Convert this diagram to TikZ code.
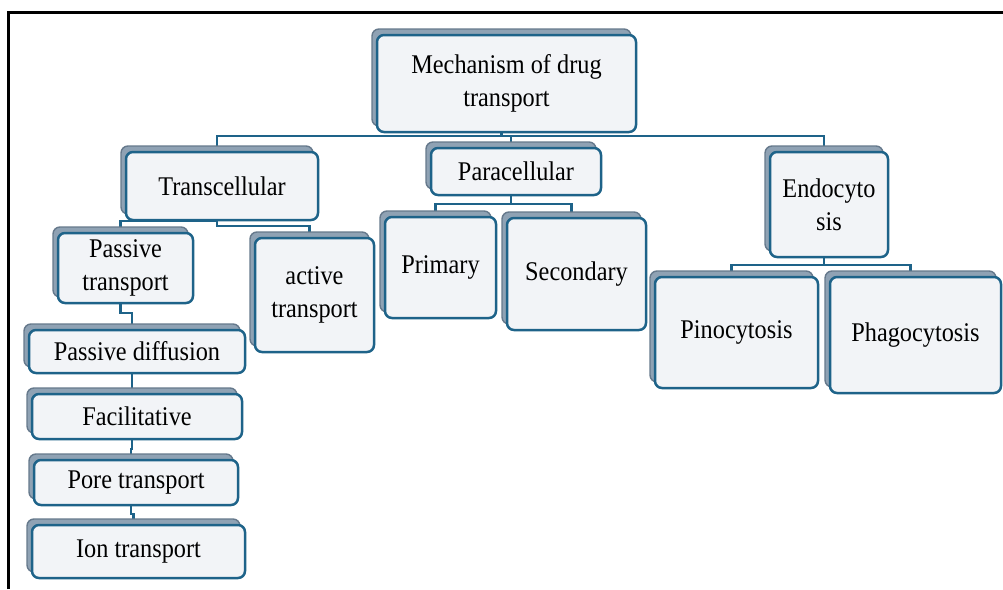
\documentclass[tikz,border=0pt]{standalone}
\usepackage{fontspec}
\setmainfont{Liberation Serif}[FakeStretch=0.9]
\usetikzlibrary{shadows,backgrounds}
\definecolor{boxline}{HTML}{1E6389}
\definecolor{boxfill}{HTML}{F2F4F7}
\definecolor{shadefill}{HTML}{8FA2B4}
\definecolor{shadeline}{HTML}{66798C}

\tikzset{
  box/.style={draw=boxline, line width=2.5pt, fill=boxfill, rounded corners=7pt,
    inner sep=0pt, outer sep=0pt, align=center, text=black,
    font=\fontsize{27}{33}\selectfont,
    general shadow={shadow xshift=-5pt, shadow yshift=6pt, fill=shadefill,
      draw=shadeline, line width=1.4pt}},
  conn/.style={draw=boxline, line width=2.4pt},
}
% \boxat{name}{x}{y}{width}{height}{text}
\newcommand\boxat[6]{\node[box, minimum width=#4pt, minimum height=#5pt] (#1) at (#2,#3) {#6};}
% elbow connector from parent to child through a horizontal run at height #3
\newcommand\link[3]{%
  \path ([xshift=-5pt]#1.center) coordinate (la) ([xshift=-5pt]#2.center) coordinate (lb);
  \draw[conn] (la) -- (la |- 0,#3) -| (lb);}

\begin{document}
\begin{tikzpicture}[x=1pt, y=-1pt]
\useasboundingbox (0,0) rectangle (1003,589);
\draw[line width=3pt] (8,589) -- (8,12) -- (1003,12);

\boxat{mech}{506.5}{83.5}{259}{97}{Mechanism of drug\\transport}
\boxat{trans}{222}{186}{192}{68}{Transcellular}
\boxat{para}{516}{171.5}{170}{47}{Paracellular}
\boxat{endo}{829}{204.5}{118}{105}{Endocyto\\sis}
\boxat{passive}{125.5}{268}{135}{70}{Passive\\transport}
\boxat{active}{314.5}{295}{119}{114}{active\\transport}
\boxat{primary}{440.5}{267.5}{111}{101}{Primary}
\boxat{secondary}{576.5}{274}{139}{112}{Secondary}
\boxat{pino}{736.5}{332.5}{163}{111}{Pinocytosis}
\boxat{phago}{915.5}{335}{171}{116}{Phagocytosis}
\boxat{pdiff}{137}{351.5}{216}{43}{Passive diffusion}
\boxat{facil}{137}{416.5}{210}{45}{Facilitative}
\boxat{pore}{136}{482.5}{204}{45}{Pore transport}
\boxat{ion}{138.5}{551.5}{213}{53}{Ion transport}

\begin{scope}[on background layer]
  \link{mech}{trans}{136}
  \link{mech}{para}{136}
  \link{mech}{endo}{136}
  \link{trans}{passive}{221}
  \link{trans}{active}{226}
  \link{para}{primary}{204}
  \link{para}{secondary}{204}
  \link{endo}{pino}{265}
  \link{endo}{phago}{265}
  \link{passive}{pdiff}{313}
  \link{pdiff}{facil}{383}
  \link{facil}{pore}{449}
  \link{pore}{ion}{514}
\end{scope}
\end{tikzpicture}
\end{document}
